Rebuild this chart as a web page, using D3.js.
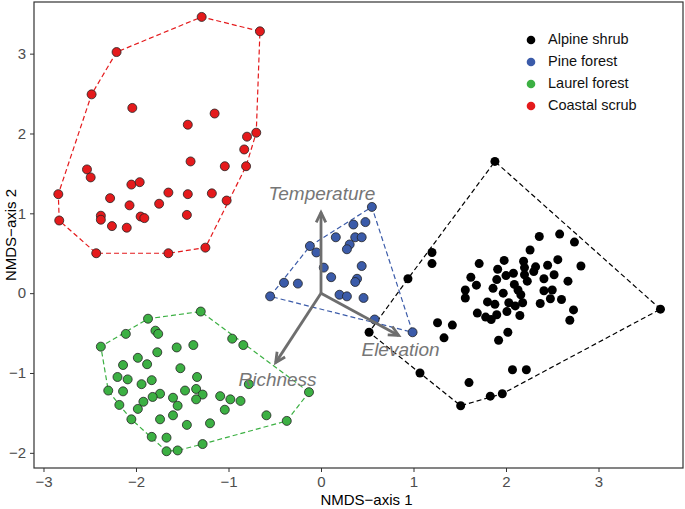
<!DOCTYPE html>
<html><head><meta charset="utf-8">
<script src="https://cdn.jsdelivr.net/npm/d3@7"></script>
<style>body{margin:0;background:#fff}svg{display:block}text{font-family:"Liberation Sans",Arial,sans-serif}</style>
</head><body><svg id="c" width="685" height="509"></svg>
<script>
const groups = ["Alpine shrub","Pine forest","Laurel forest","Coastal scrub"];
const groupColors = ["#000000","#3b5ba9","#3cb043","#e41a1c"];
const xTicks = [-3,-2,-1,0,1,2,3];
const yTicks = [-2,-1,0,1,2,3];

const alpine = [[1.88,1.65],[1.20,0.51],[1.20,0.37],[0.94,0.18],[2.36,0.71],[2.58,0.74],[2.74,0.64],[2.26,0.54],[1.98,0.41],[2.19,0.40],[2.56,0.42],[2.81,0.34],[1.71,0.37],[1.91,0.30],[2.20,0.32],[2.32,0.33],[2.45,0.35],[2.30,0.27],[2.20,0.23],[2.00,0.22],[2.08,0.25],[1.62,0.20],[2.52,0.23],[1.90,0.17],[2.23,0.15],[2.41,0.18],[2.67,0.15],[1.68,0.10],[2.09,0.11],[1.86,0.06],[1.56,0.04],[2.13,0.04],[2.41,0.03],[2.50,0.04],[1.97,0.00],[2.16,-0.02],[1.56,-0.06],[2.60,-0.08],[1.80,-0.11],[1.88,-0.14],[2.03,-0.12],[2.10,-0.16],[2.18,-0.12],[2.37,-0.13],[2.48,-0.07],[2.73,-0.21],[2.01,-0.23],[1.69,-0.25],[1.78,-0.30],[1.84,-0.33],[1.90,-0.27],[2.15,-0.28],[2.69,-0.34],[3.67,-0.20],[1.26,-0.37],[1.42,-0.40],[1.33,-0.56],[2.02,-0.49],[1.92,-0.59],[0.52,-0.49],[1.07,-1.00],[2.07,-0.96],[2.22,-0.96],[1.60,-1.12],[1.83,-1.29],[1.96,-1.26],[1.51,-1.41]];
const pine = [[0.55,1.08],[0.35,0.86],[0.48,0.89],[0.16,0.70],[0.37,0.70],[0.44,0.70],[0.31,0.61],[0.28,0.55],[-0.12,0.59],[-0.05,0.51],[0.44,0.34],[0.03,0.32],[0.11,0.20],[0.39,0.18],[0.37,0.14],[-0.40,0.13],[-0.25,0.12],[0.20,-0.02],[0.28,-0.04],[0.46,-0.06],[-0.55,-0.04],[0.58,-0.33],[0.99,-0.49]];
const laurel = [[-1.30,-0.23],[-1.87,-0.32],[-2.11,-0.51],[-1.79,-0.47],[-1.76,-0.51],[-2.38,-0.67],[-0.96,-0.57],[-0.84,-0.65],[-1.77,-0.74],[-1.56,-0.68],[-1.38,-0.65],[-1.98,-0.81],[-1.88,-0.89],[-2.14,-0.90],[-1.52,-0.94],[-2.20,-1.05],[-2.09,-1.08],[-1.83,-1.09],[-1.94,-1.14],[-1.34,-1.05],[-0.78,-1.14],[-2.30,-1.22],[-2.14,-1.23],[-1.74,-1.26],[-1.47,-1.22],[-1.35,-1.20],[-1.28,-1.27],[-1.35,-1.33],[-1.82,-1.30],[-1.60,-1.31],[-1.09,-1.29],[-0.98,-1.33],[-0.87,-1.35],[-0.13,-1.24],[-1.92,-1.36],[-2.18,-1.40],[-1.55,-1.41],[-1.98,-1.45],[-1.04,-1.46],[-1.60,-1.53],[-0.59,-1.53],[-2.05,-1.58],[-1.74,-1.58],[-1.45,-1.65],[-1.20,-1.63],[-0.37,-1.60],[-1.83,-1.80],[-1.67,-1.81],[-1.28,-1.89],[-1.67,-1.98],[-1.55,-1.97]];
const coastal = [[-1.29,3.46],[-0.66,3.28],[-2.21,3.02],[-2.48,2.49],[-2.04,2.32],[-1.15,2.25],[-1.44,2.11],[-0.70,2.01],[-0.80,1.96],[-0.83,1.80],[-1.41,1.65],[-1.04,1.59],[-0.81,1.59],[-2.53,1.55],[-2.49,1.45],[-2.05,1.36],[-1.96,1.39],[-2.84,1.24],[-1.65,1.26],[-1.44,1.24],[-1.18,1.25],[-2.28,1.19],[-1.02,1.16],[-2.07,1.10],[-1.75,1.12],[-2.38,0.97],[-2.38,0.92],[-1.95,0.96],[-1.91,0.94],[-1.45,0.98],[-2.83,0.91],[-2.26,0.84],[-2.10,0.82],[-1.25,0.57],[-2.43,0.50],[-1.65,0.50]];

const vectorNames = ["Temperature","Elevation","Richness"];
const vectorEnds = [[0.00,1.01],[0.84,-0.53],[-0.49,-0.87]];
const vectorLabelPos = [[0.01,1.23],[0.86,-0.73],[-0.47,-1.10]];

const svg = d3.select("#c");
const L=34,R=683,T=2,B=468;
const x = d3.scaleLinear().domain([-3.1027,3.9135]).range([L,R]);
const y = d3.scaleLinear().domain([-2.19,3.647]).range([B,T]);
const fmt = d3.format("d");

// axes
const xa = svg.append("g").attr("transform",`translate(0,${B})`).call(d3.axisBottom(x).tickValues(xTicks).tickFormat(fmt).tickSize(4).tickPadding(4));
const ya = svg.append("g").attr("transform",`translate(${L},0)`).call(d3.axisLeft(y).tickValues(yTicks).tickFormat(fmt).tickSize(4).tickPadding(4));
[xa,ya].forEach(a=>{a.select(".domain").remove();a.selectAll("line").attr("stroke","#333");a.selectAll("text").attr("font-size",15).attr("fill","#4d4d4d").attr("font-family","Liberation Sans, Arial, sans-serif");});
svg.append("rect").attr("x",L).attr("y",T).attr("width",R-L).attr("height",B-T).attr("fill","none").attr("stroke","#333").attr("stroke-width",1.2);

svg.append("text").attr("x",(L+R)/2+8).attr("y",505).attr("text-anchor","middle").attr("font-size",15).text("NMDS\u2212axis 1");
svg.append("text").attr("transform",`translate(12,${(T+B)/2}) rotate(-90)`).attr("text-anchor","middle").attr("dominant-baseline","middle").attr("font-size",15).text("NMDS\u2212axis 2");

const data = [alpine,pine,laurel,coastal];
const plot = svg.append("g");
// hulls
data.forEach((pts,i)=>{
  const hull = d3.polygonHull(pts.map(p=>[x(p[0]),y(p[1])]));
  plot.append("path").attr("d","M"+hull.join("L")+"Z").attr("fill","none")
    .attr("stroke",groupColors[i]).attr("stroke-width",1.2).attr("stroke-dasharray","5,3");
});
// points
data.forEach((pts,i)=>{
  plot.append("g").selectAll("circle").data(pts).join("circle")
    .attr("cx",d=>x(d[0])).attr("cy",d=>y(d[1])).attr("r",4.5)
    .attr("fill",groupColors[i]).attr("stroke","#222").attr("stroke-width",i===0?0:0.8);
});
// vectors
const vg = svg.append("g");
vectorEnds.forEach((e,i)=>{
  const x0=x(0),y0=y(0),x1=x(e[0]),y1=y(e[1]);
  vg.append("line").attr("x1",x0).attr("y1",y0).attr("x2",x1).attr("y2",y1).attr("stroke","#6e6e6e").attr("stroke-width",2.8);
  const ang=Math.atan2(y1-y0,x1-x0), h=11, w=0.45;
  const p1=[x1-h*Math.cos(ang-w),y1-h*Math.sin(ang-w)], p2=[x1-h*Math.cos(ang+w),y1-h*Math.sin(ang+w)];
  vg.append("path").attr("d",`M${p1}L${x1},${y1}L${p2}`).attr("fill","none").attr("stroke","#6e6e6e").attr("stroke-width",2.8).attr("stroke-linejoin","miter").attr("stroke-linecap","butt");
  vg.append("text").attr("x",x(vectorLabelPos[i][0])).attr("y",y(vectorLabelPos[i][1])).attr("text-anchor","middle")
    .attr("dominant-baseline","middle").attr("font-size",19).attr("font-style","italic").attr("fill","#767676").text(vectorNames[i]);
});
// legend
const lg = svg.append("g");
groups.forEach((g,i)=>{
  lg.append("circle").attr("cx",531).attr("cy",40+i*22).attr("r",4.3).attr("fill",groupColors[i]);
  lg.append("text").attr("x",548).attr("y",40+i*22).attr("dominant-baseline","middle").attr("font-size",14.5).attr("fill","#111").text(g);
});
</script></body></html>
